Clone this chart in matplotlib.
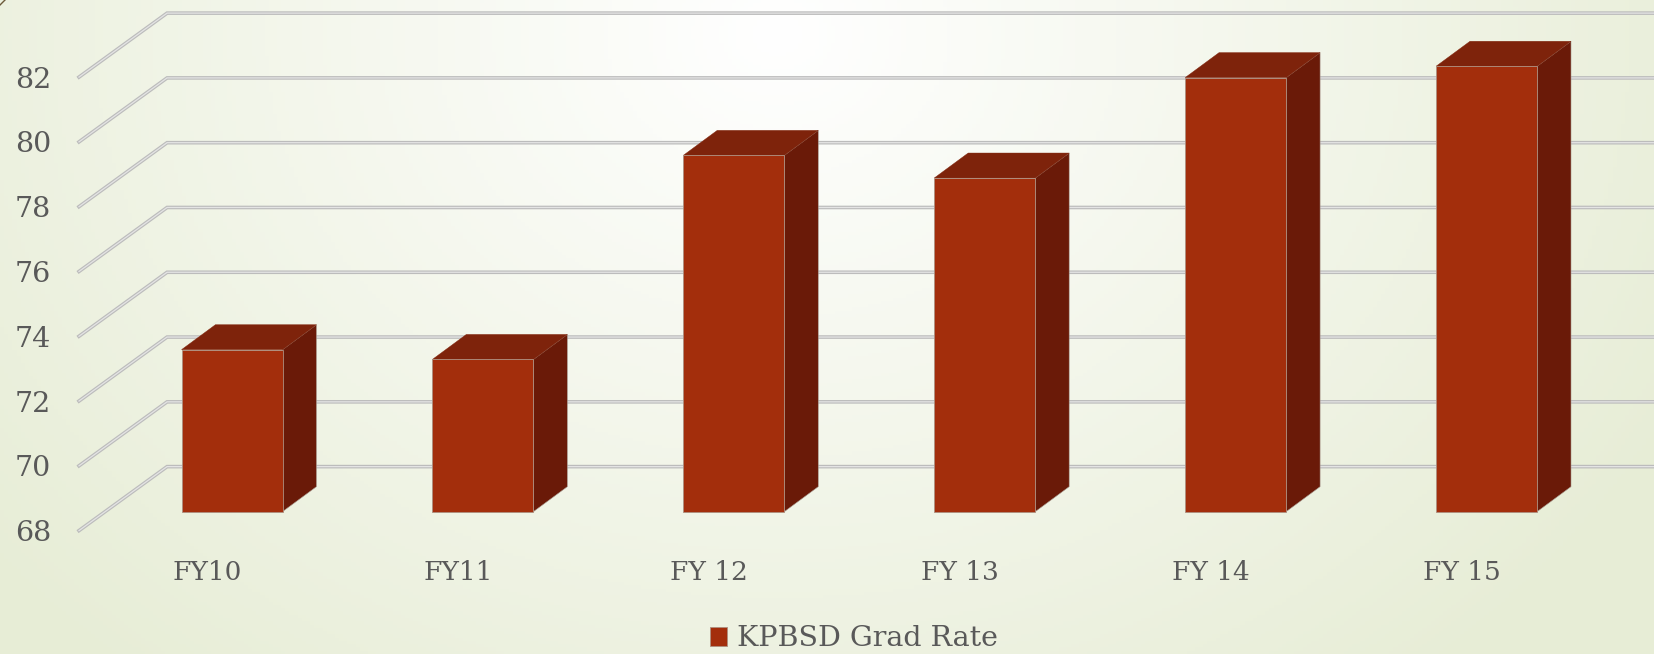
import numpy as np
import matplotlib
matplotlib.use('Agg')
import matplotlib.pyplot as plt

# values
years = ['FY10', 'FY11', 'FY 12', 'FY 13', 'FY 14', 'FY 15']
grad_rate = [73.0, 72.7, 79.0, 78.3, 81.4, 81.75]
y_ticks = [68, 70, 72, 74, 76, 78, 80, 82]
series_name = 'KPBSD Grad Rate'

W, H = 1654, 654
FRONT = '#A32E0C'
SIDE = '#6A1A08'
TOP = '#7E230B'
TEXT = '#595959'

plt.rcParams['font.family'] = ['DejaVu Serif']
fig = plt.figure(figsize=(W / 100, H / 100), dpi=100)

# background, pale green going to white near the top middle
bg = fig.add_axes([0, 0, 1, 1], zorder=0)
xx, yy = np.meshgrid(np.linspace(0, 1, 400), np.linspace(0, 1, 200))
d = np.sqrt(((xx - 0.47) / 0.62) ** 2 + ((yy - 0.05) / 1.3) ** 2)
d = np.clip(d, 0, 1)[..., None]
edge = np.array([0xE7, 0xED, 0xD6]) / 255
bg.imshow(1 + (edge - 1) * d ** 1.0, aspect='auto', extent=[0, 1, 1, 0])
bg.axis('off')

# plot area: 68 sits on the bottom edge, pixel scale is fixed by the limits
ax = fig.add_axes([79 / W, (H - 530.6) / H, 1 - 79 / W, 530.6 / H], zorder=1)
ax.patch.set_visible(False)
ax.set_xlim(-0.51, 5.767)
ax.set_ylim(68, 84.38)
for s in ax.spines.values():
    s.set_visible(False)

depth_x, depth_y = 0.351, 1.975
x0, x1 = ax.get_xlim()
for v in y_ticks:
    gx = [x0, x0 + depth_x, x1]
    gy = [v, v + depth_y, v + depth_y]
    ax.plot(gx, gy, color='#bcbcbc', lw=2.6, zorder=1, clip_on=False, solid_joinstyle='miter')
    ax.plot(gx, gy, color='#e4e4e4', lw=0.9, zorder=1.1, clip_on=False, solid_joinstyle='miter')

# the bars: front face plus side and top polygons
base = 68.586
shift = 0.1
bw = 0.4025
bar_dx, bar_dy = 0.135, 0.77
pos = np.arange(len(years))
ax.bar(pos + shift, np.array(grad_rate) - 68, bw, bottom=base, color=FRONT,
       edgecolor='#ad8f80', linewidth=0.6, zorder=3, label=series_name)
for p, v in zip(pos, grad_rate):
    l = p + shift - bw / 2
    r = p + shift + bw / 2
    t = base + v - 68
    ax.fill([r, r + bar_dx, r + bar_dx, r], [base, base + bar_dy, t + bar_dy, t],
            color=SIDE, ec='#a89a90', lw=0.4, zorder=2.5)
    ax.fill([l, l + bar_dx, r + bar_dx, r], [t, t + bar_dy, t + bar_dy, t],
            color=TOP, ec=TOP, lw=0.3, zorder=2.6)

ax.set_xticks(pos, years)
ax.set_yticks(y_ticks)
ax.tick_params(axis='x', length=0, pad=21, labelsize=19, labelcolor=TEXT)
ax.tick_params(axis='y', length=0, pad=20, labelsize=20.5, labelcolor=TEXT)

leg = ax.legend(loc='center', bbox_to_anchor=(854 / W, (H - 639) / H), bbox_transform=fig.transFigure,
                frameon=False, ncol=1, fontsize=20.5, labelcolor=TEXT, handlelength=0.62,
                handleheight=0.62, handletextpad=0.35, borderpad=0, borderaxespad=0)

# little corner mark
fig.add_artist(plt.Line2D([0, 5 / W], [1 - 5 / H, 1], color='#6b5a3a', lw=1))

fig.savefig('out.png', dpi=100)
